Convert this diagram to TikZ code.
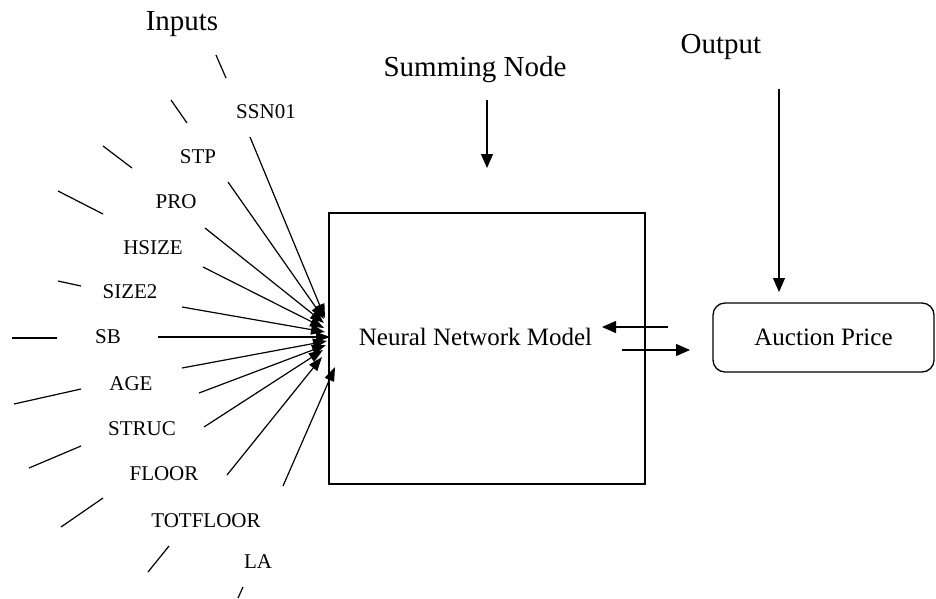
\documentclass[tikz,border=0pt]{standalone}
\usepackage{fontspec}
\setmainfont{Liberation Serif}
\usetikzlibrary{arrows.meta}
\tikzset{
  biglab/.style={font=\fontsize{29}{32}\selectfont, inner sep=0pt, anchor=base},
  midlab/.style={font=\fontsize{25}{28}\selectfont, inner sep=0pt, anchor=base},
  inlab/.style={font=\fontsize{21}{24}\selectfont, inner sep=0pt, anchor=base},
  wire/.style={line width=1.2pt},
  inarrow/.style={wire, -{Triangle[length=14pt,width=10pt]}},
  bigarrow/.style={wire, -{Triangle[length=14pt,width=12pt]}},
  boxline/.style={draw, line width=1.3pt},
}
\begin{document}
\begin{tikzpicture}[x=1pt,y=-1pt]
\useasboundingbox (0,0) rectangle (936,598);

% headings
\node[biglab] (inputs) at (182,30) {Inputs};
\node[biglab] (summing) at (475,76) {Summing Node};
\node[biglab] (output) at (721,53) {Output};

% main box
\node[boxline, minimum width=316pt, minimum height=271pt, inner sep=0pt] (nn) at (487,348.5) {};
\node[midlab] (nnlab) at (475.5,345) {Neural Network Model};

% auction box
\node[boxline, rounded corners=12pt, minimum width=221pt, minimum height=69pt,
      font=\fontsize{25}{28}\selectfont, inner sep=0pt] (ap) at (823.5,337.5) {Auction Price};

% top arrows
\coordinate (sa) at (487,100); \coordinate (sb) at (487,168);
\draw[bigarrow] (sa) -- (sb);
\coordinate (oa) at (779,89); \coordinate (ob) at (779,292);
\draw[bigarrow] (oa) -- (ob);

% arrows between box and output
\coordinate (la) at (668,327); \coordinate (lb) at (602,327);
\draw[bigarrow] (la) -- (lb);
\coordinate (ra) at (622,350); \coordinate (rb) at (690,350);
\draw[bigarrow] (ra) -- (rb);

% input labels
\node[inlab] (i1) at (266,118) {SSN01};
\node[inlab] (i2) at (198,163) {STP};
\node[inlab] (i3) at (176,208) {PRO};
\node[inlab] (i4) at (153,254) {HSIZE};
\node[inlab] (i5) at (130,298) {SIZE2};
\node[inlab] (i6) at (108,343) {SB};
\node[inlab] (i7) at (131,390) {AGE};
\node[inlab] (i8) at (142,435) {STRUC};
\node[inlab] (i9) at (164,480) {FLOOR};
\node[inlab] (i10) at (206,527) {TOTFLOOR};
\node[inlab] (i11) at (258,568) {LA};

% input arrows (start just beside each label, end at the box)
\foreach \n/\sx/\sy/\ex/\ey in {
  1/250/137/325/318,
  2/228/182/324/319,
  3/205/228/324/323,
  4/203/267/324/328,
  5/182/307/325/332,
  6/158/337/330/337,
  7/182/368/327/341,
  8/199/393/326/345,
  9/204/427/323/350,
  10/227/475/322/357,
  11/283/486/335/367}{
  \coordinate (s\n) at (\sx,\sy);
  \coordinate (e\n) at (\ex,\ey);
  \draw[inarrow] (s\n) -- (e\n);
}

% outer short segments
\foreach \n/\ax/\ay/\bx/\by in {
  1/216/55/226/78,
  2/171/100/187/123,
  3/103/146/132/168,
  4/58/191/103/214,
  5/58/281/81/286,
  6/12/338/57/338,
  7/14/404/81/389,
  8/29/468/81/446,
  9/61/527/103/498,
  10/148/572/169/546,
  11/238/598/243/587}{
  \coordinate (p\n) at (\ax,\ay);
  \coordinate (q\n) at (\bx,\by);
  \draw[wire] (p\n) -- (q\n);
}
\end{tikzpicture}
\end{document}
